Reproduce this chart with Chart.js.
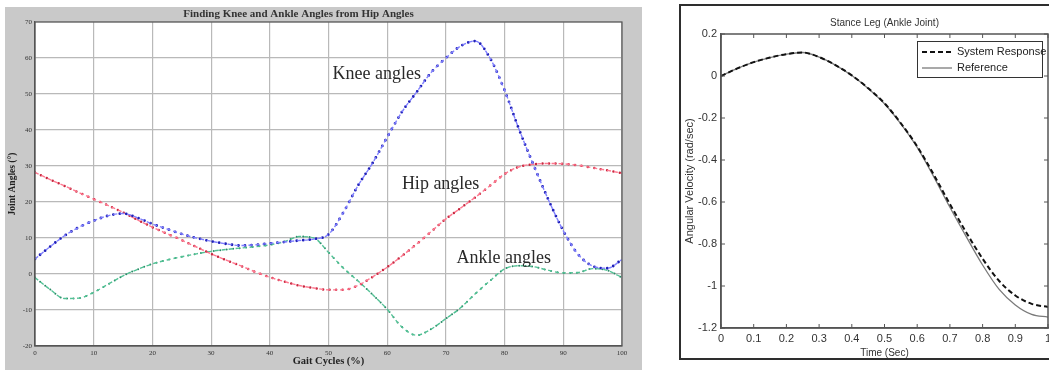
<!DOCTYPE html>
<html>
<head>
<meta charset="utf-8">
<script src="https://cdn.jsdelivr.net/npm/chart.js@4.4.1/dist/chart.umd.min.js"></script>
<style>
  html, body { margin: 0; padding: 0; background: #fff; overflow: hidden; width: 1049px; height: 370px; }
  #left { position: absolute; left: 5px; top: 7px; width: 637px; height: 363px; background: #c9c9c9; }
  #right { position: absolute; left: 679px; top: 4px; width: 390px; height: 352px; border: 2px solid #2e2e2e; background: #fff; }
</style>
</head>
<body>
<div id="left"><canvas id="gaitChart"></canvas></div>
<div id="right"><canvas id="ankleChart"></canvas></div>
<script>
// Left chart: joint angles over the gait cycle (%)
const gaitCycle = [0, 2.5, 5, 7.5, 10, 12.5, 15, 17.5, 20, 22.5, 25, 27.5, 30, 32.5, 35, 37.5, 40,
  42.5, 45, 47.5, 50, 52.5, 55, 57.5, 60, 62.5, 65, 67.5, 70, 72.5, 75, 77.5, 80, 82.5, 85, 87.5,
  90, 92.5, 95, 97.5, 100];
const kneeAngles = [4.2, 7.5, 10.6, 13.0, 14.8, 16.2, 16.8, 15.6, 13.9, 12.5, 11.1, 10.0, 9.1, 8.4,
  7.9, 8.1, 8.5, 8.9, 9.3, 9.7, 11.0, 17.0, 24.5, 30.8, 38.0, 45.0, 50.5, 56.0, 60.0, 63.3, 64.7,
  60.0, 51.0, 40.0, 30.0, 20.5, 12.0, 5.5, 2.2, 1.6, 4.0];
const hipAngles = [28.2, 26.3, 24.5, 22.6, 20.8, 19.0, 17.1, 15.0, 13.0, 11.2, 9.4, 7.5, 5.6, 3.9,
  2.3, 0.6, -0.9, -2.1, -3.2, -3.9, -4.4, -4.4, -3.2, -0.8, 1.9, 5.0, 8.3, 11.8, 15.3, 18.3, 21.3,
  24.5, 27.8, 29.8, 30.5, 30.7, 30.6, 30.2, 29.5, 28.8, 28.0];
const ankleAngles = [-1.0, -4.2, -6.8, -6.7, -5.1, -2.8, -0.5, 1.3, 2.8, 3.9, 4.8, 5.6, 6.3, 6.8,
  7.2, 7.6, 8.1, 9.0, 10.4, 10.0, 6.0, 1.7, -1.9, -5.7, -9.8, -14.7, -17.0, -15.3, -12.4, -9.4,
  -5.5, -1.9, 1.4, 2.3, 2.0, 1.0, 0.3, 0.4, 1.5, 1.0, -1.0];
const gaitTicksX = [0, 10, 20, 30, 40, 50, 60, 70, 80, 90, 100];
const gaitTicksY = [-20, -10, 0, 10, 20, 30, 40, 50, 60, 70];

// Right chart: stance leg ankle angular velocity
const timeSec = [0, 0.05, 0.1, 0.15, 0.2, 0.25, 0.3, 0.35, 0.4, 0.45, 0.5, 0.55, 0.6, 0.65, 0.7,
  0.75, 0.8, 0.85, 0.9, 0.95, 1.0];
const systemResponse = [0, 0.036, 0.066, 0.088, 0.104, 0.112, 0.09, 0.052, 0.003, -0.058, -0.13,
  -0.225, -0.335, -0.468, -0.61, -0.745, -0.87, -0.975, -1.045, -1.085, -1.1];
const referenceVel = [0, 0.036, 0.066, 0.088, 0.104, 0.112, 0.09, 0.052, 0.002, -0.059, -0.132,
  -0.228, -0.34, -0.478, -0.625, -0.765, -0.9, -1.015, -1.09, -1.135, -1.148];

const serif = "'Liberation Serif', 'Times New Roman', serif";
const sans = "'Liberation Sans', Arial, sans-serif";
const fmt = v => String(Number(v.toFixed(1)));

// white plot area, box and optional inward tick marks
const boxPlugin = {
  id: 'box',
  beforeDraw(chart, args, opts) {
    const { ctx, chartArea: a } = chart;
    ctx.save();
    ctx.fillStyle = '#fff';
    ctx.fillRect(a.left, a.top, a.right - a.left, a.bottom - a.top);
    ctx.restore();
  },
  afterDraw(chart, args, opts) {
    const { ctx, chartArea: a, scales } = chart;
    ctx.save();
    ctx.strokeStyle = opts.color;
    ctx.lineWidth = opts.width;
    ctx.strokeRect(a.left, a.top, a.right - a.left, a.bottom - a.top);
    if (opts.tickLen) {
      ctx.beginPath();
      scales.x.ticks.forEach(t => {
        const px = scales.x.getPixelForValue(t.value);
        ctx.moveTo(px, a.bottom); ctx.lineTo(px, a.bottom - opts.tickLen);
        ctx.moveTo(px, a.top); ctx.lineTo(px, a.top + opts.tickLen);
      });
      scales.y.ticks.forEach(t => {
        const py = scales.y.getPixelForValue(t.value);
        ctx.moveTo(a.left, py); ctx.lineTo(a.left + opts.tickLen, py);
        ctx.moveTo(a.right, py); ctx.lineTo(a.right - opts.tickLen, py);
      });
      ctx.lineWidth = 1;
      ctx.stroke();
    }
    ctx.restore();
  }
};

// free text: chart title and in-plot labels
const textPlugin = {
  id: 'texts',
  afterDraw(chart, args, opts) {
    const { ctx, chartArea: a, scales } = chart;
    ctx.save();
    if (opts.title) {
      ctx.font = opts.title.font;
      ctx.fillStyle = opts.title.color;
      ctx.textAlign = 'center';
      ctx.textBaseline = 'middle';
      ctx.fillText(opts.title.text, (a.left + a.right) / 2 + opts.title.dx, opts.title.y);
    }
    (opts.labels || []).forEach(l => {
      ctx.font = l.font;
      ctx.fillStyle = l.color;
      ctx.textAlign = 'left';
      ctx.textBaseline = 'middle';
      ctx.fillText(l.text, scales.x.getPixelForValue(l.x), scales.y.getPixelForValue(l.y));
    });
    ctx.restore();
  }
};

// MATLAB style legend inside the top right corner
const boxLegend = {
  id: 'boxLegend',
  afterDraw(chart, args, opts) {
    if (!opts.show) return;
    const { ctx, chartArea: a } = chart;
    const w = 125, h = 36;
    const left = a.right - 6 - w, top = a.top + 7;
    ctx.save();
    ctx.fillStyle = '#fff';
    ctx.fillRect(left, top, w, h);
    ctx.strokeStyle = '#333';
    ctx.lineWidth = 1;
    ctx.strokeRect(left + 0.5, top + 0.5, w, h);
    chart.data.datasets.forEach((ds, i) => {
      const y = top + 11 + i * 16;
      ctx.beginPath();
      ctx.setLineDash(ds.borderDash || []);
      ctx.strokeStyle = ds.borderColor;
      ctx.lineWidth = ds.borderWidth;
      ctx.moveTo(left + 5, y);
      ctx.lineTo(left + 35, y);
      ctx.stroke();
      ctx.setLineDash([]);
      ctx.font = '11px ' + sans;
      ctx.fillStyle = '#222';
      ctx.textBaseline = 'middle';
      ctx.fillText(ds.label, left + 40, y);
    });
    ctx.restore();
  }
};

function gaitLayers(label, values, lineColor, dotColor, dotWidth) {
  const pts = gaitCycle.map((g, i) => ({ x: g, y: values[i] }));
  return [
    { label, data: pts, borderColor: lineColor, borderWidth: 1.4, borderDash: [4, 3],
      pointRadius: 0, cubicInterpolationMode: 'monotone' },
    { label: label + ' (markers)', data: pts, borderColor: dotColor, borderWidth: dotWidth,
      borderDash: [0, 6.5], borderCapStyle: 'round', pointRadius: 0, cubicInterpolationMode: 'monotone' }
  ];
}

new Chart(document.getElementById('gaitChart'), {
  type: 'line',
  data: {
    datasets: [
      ...gaitLayers('Knee angles', kneeAngles, '#8080ff', '#2020b8', 2.8),
      ...gaitLayers('Hip angles', hipAngles, '#ff7890', '#c8283f', 2.5),
      ...gaitLayers('Ankle angles', ankleAngles, '#52c295', '#2a8d68', 2.0)
    ]
  },
  options: {
    responsive: true,
    maintainAspectRatio: false,
    animation: false,
    layout: { padding: { left: 0, top: 15, right: 20, bottom: 0 } },
    plugins: {
      legend: { display: false },
      tooltip: { enabled: false },
      box: { color: '#555', width: 1.2 },
      texts: {
        title: { text: 'Finding Knee and Ankle Angles from Hip Angles', font: 'bold 11px ' + serif,
          color: '#333', dx: -30, y: 7 },
        labels: [
          { text: 'Knee angles', x: 50.7, y: 55.6, font: '18px ' + serif, color: '#2a2a2a' },
          { text: 'Hip angles', x: 62.5, y: 25, font: '18px ' + serif, color: '#2a2a2a' },
          { text: 'Ankle angles', x: 71.8, y: 4.5, font: '18px ' + serif, color: '#2a2a2a' }
        ]
      }
    },
    scales: {
      x: {
        type: 'linear', min: 0, max: 100,
        afterFit(s) { s.height = 24; },
        afterBuildTicks(s) { s.ticks = gaitTicksX.map(v => ({ value: v })); },
        grid: { color: '#b9b9b9', lineWidth: 1.2, drawTicks: false },
        border: { color: '#555', width: 1.2 },
        ticks: { autoSkip: false, maxRotation: 0, padding: 3, color: '#333', font: { family: serif, size: 7 } },
        title: { display: true, text: 'Gait Cycles (%)', color: '#222', padding: { top: 0, bottom: 2.5 },
          font: { family: serif, size: 10.5, weight: 'bold' } }
      },
      y: {
        min: -20, max: 70,
        afterFit(s) { s.width = 30; },
        afterBuildTicks(s) { s.ticks = gaitTicksY.map(v => ({ value: v })); },
        grid: { color: '#b9b9b9', lineWidth: 1.2, drawTicks: false },
        border: { color: '#555', width: 1.2 },
        ticks: { padding: 3, color: '#333', font: { family: serif, size: 7 } },
        title: { display: true, text: 'Joint Angles (°)', color: '#222', padding: { top: 1.5, bottom: 0 },
          font: { family: serif, size: 9.5, weight: 'bold' } }
      }
    }
  },
  plugins: [boxPlugin, textPlugin]
});

new Chart(document.getElementById('ankleChart'), {
  type: 'line',
  data: {
    datasets: [
      { label: 'System Response', data: timeSec.map((t, i) => ({ x: t, y: systemResponse[i] })),
        borderColor: '#111', borderWidth: 2, borderDash: [5, 3], pointRadius: 0, cubicInterpolationMode: 'monotone' },
      { label: 'Reference', data: timeSec.map((t, i) => ({ x: t, y: referenceVel[i] })),
        borderColor: '#7a7a7a', borderWidth: 1.3, pointRadius: 0, cubicInterpolationMode: 'monotone' }
    ]
  },
  options: {
    responsive: true,
    maintainAspectRatio: false,
    animation: false,
    layout: { padding: { left: 0, top: 28, right: 23, bottom: 0 } },
    plugins: {
      legend: { display: false },
      tooltip: { enabled: false },
      box: { color: '#555', width: 1.5, tickLen: 4 },
      boxLegend: { show: true },
      texts: {
        title: { text: 'Stance Leg (Ankle Joint)', font: '10px ' + sans, color: '#333', dx: 0, y: 17 }
      }
    },
    scales: {
      x: {
        type: 'linear', min: 0, max: 1,
        afterFit(s) { s.height = 30; },
        grid: { drawOnChartArea: false, drawTicks: false },
        border: { color: '#555', width: 1.5 },
        ticks: { stepSize: 0.1, autoSkip: false, maxRotation: 0, padding: 4, color: '#333',
          font: { family: sans, size: 11 }, callback: fmt },
        title: { display: true, text: 'Time (Sec)', color: '#333', padding: { top: 0, bottom: 0 },
          font: { family: sans, size: 10, lineHeight: 1 } }
      },
      y: {
        min: -1.2, max: 0.2,
        afterFit(s) { s.width = 40; },
        grid: { drawOnChartArea: false, drawTicks: false },
        border: { color: '#555', width: 1.5 },
        ticks: { stepSize: 0.2, padding: 4, color: '#333', font: { family: sans, size: 11 }, callback: fmt },
        title: { display: true, text: 'Angular Velocity (rad/sec)', color: '#333', padding: { top: 2.5, bottom: 0 },
          font: { family: sans, size: 11 } }
      }
    }
  },
  plugins: [boxPlugin, textPlugin, boxLegend]
});
</script>
</body>
</html>
